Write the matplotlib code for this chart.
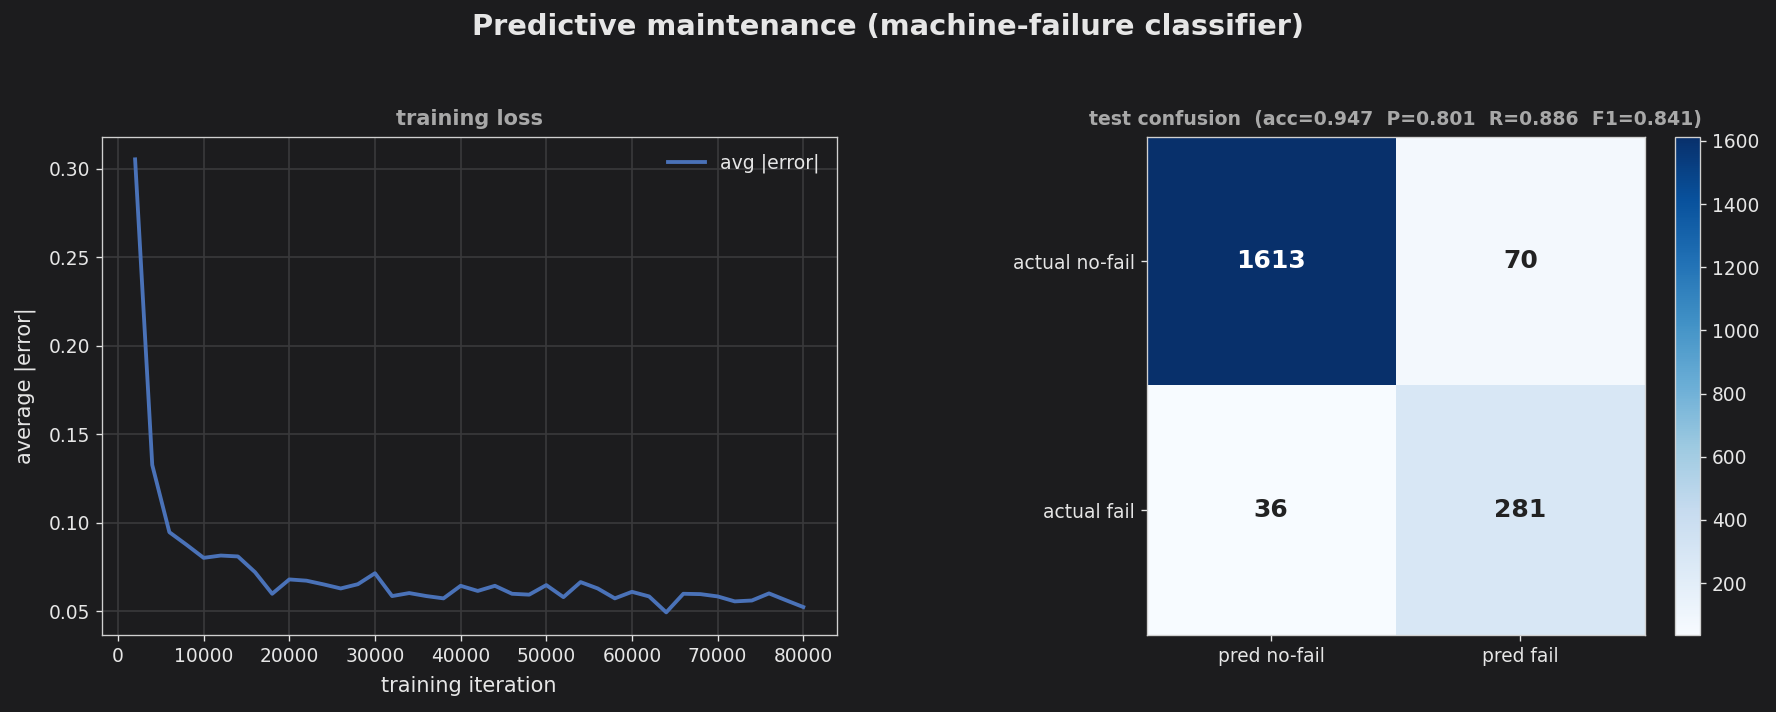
import numpy as np
import matplotlib
matplotlib.use("Agg")
import matplotlib.pyplot as plt

# training loss curve (avg |error| every 2000 iterations)
iterations = [2000, 4000, 6000, 8000, 10000, 12000, 14000, 16000, 18000, 20000,
              22000, 24000, 26000, 28000, 30000, 32000, 34000, 36000, 38000, 40000,
              42000, 44000, 46000, 48000, 50000, 52000, 54000, 56000, 58000, 60000,
              62000, 64000, 66000, 68000, 70000, 72000, 74000, 76000, 78000, 80000]
avg_error = [0.3053, 0.1326, 0.0946, 0.0875, 0.0801, 0.0814, 0.0809, 0.0720, 0.0598, 0.0679,
             0.0672, 0.0651, 0.0628, 0.0652, 0.0714, 0.0585, 0.0602, 0.0585, 0.0572, 0.0643,
             0.0614, 0.0643, 0.0598, 0.0593, 0.0647, 0.0579, 0.0664, 0.0628, 0.0572, 0.0609,
             0.0583, 0.0493, 0.0598, 0.0596, 0.0583, 0.0555, 0.0560, 0.0600, 0.0561, 0.0523]

# test confusion matrix
row_labels = ["actual no-fail", "actual fail"]
col_labels = ["pred no-fail", "pred fail"]
confusion = [[1613, 70],
             [36, 281]]
metrics_text = "acc=0.947  P=0.801  R=0.886  F1=0.841"

BG = "#1c1c1e"
FG = "#e6e6e6"
TITLE_GRAY = "#a8a8a8"
SPINE = "#d0d0d0"

plt.rcParams.update({
    "figure.facecolor": BG,
    "axes.facecolor": BG,
    "axes.edgecolor": SPINE,
    "text.color": FG,
    "axes.labelcolor": FG,
    "xtick.color": FG,
    "ytick.color": FG,
    "font.size": 11.2,
})

fig = plt.figure(figsize=(14.8, 712 / 120), dpi=120)
fig.suptitle("Predictive maintenance (machine-failure classifier)",
             fontsize=17.3, fontweight="bold", color=FG, y=0.982)

## left: training loss
ax = fig.add_axes([101.7 / 1776, 1 - 635 / 712, 735 / 1776, 498.3 / 712])
ax.plot(iterations, avg_error, color="#4a72b8", linewidth=2.3, label="avg |error|")
ax.grid(True, color="#3a3a3c", linewidth=1)
ax.set_axisbelow(True)
ax.set_title("training loss", color=TITLE_GRAY, fontweight="bold", fontsize=12.5, pad=7)
ax.set_xlabel("training iteration", fontsize=12.5, labelpad=6.5)
ax.set_ylabel("average |error|", fontsize=12.5, labelpad=7.5)
ax.set_yticks([0.05, 0.10, 0.15, 0.20, 0.25, 0.30])
leg = ax.legend(loc="upper right", frameon=False, fontsize=11.3)
for t in leg.get_texts():
    t.set_color(FG)

## right: confusion matrix
cm = np.array(confusion)
ax2 = fig.add_axes([1146.5 / 1776, 1 - 635 / 712, 498.5 / 1776, 498.3 / 712])
im = ax2.imshow(cm, cmap="Blues", vmin=cm.min(), vmax=cm.max())
ax2.set_xticks(range(len(col_labels)))
ax2.set_xticklabels(col_labels)
ax2.set_yticks(range(len(row_labels)))
ax2.set_yticklabels(row_labels)
ax2.set_title(f"test confusion  ({metrics_text})", color=TITLE_GRAY,
              fontweight="bold", fontsize=11.3, pad=7)
thresh = cm.max() / 2
for i in range(cm.shape[0]):
    for j in range(cm.shape[1]):
        ax2.text(j, i, str(cm[i, j]), ha="center", va="center", fontsize=15,
                 fontweight="bold", color="white" if cm[i, j] > thresh else "#222222")

cax = fig.add_axes([1675 / 1776, 1 - 635 / 712, 25 / 1776, 498.3 / 712])
cb = fig.colorbar(im, cax=cax)
cb.set_ticks([200, 400, 600, 800, 1000, 1200, 1400, 1600])
cb.outline.set_edgecolor(SPINE)
cax.tick_params(colors=FG)

fig.savefig("out.png", dpi=120, facecolor=BG)
